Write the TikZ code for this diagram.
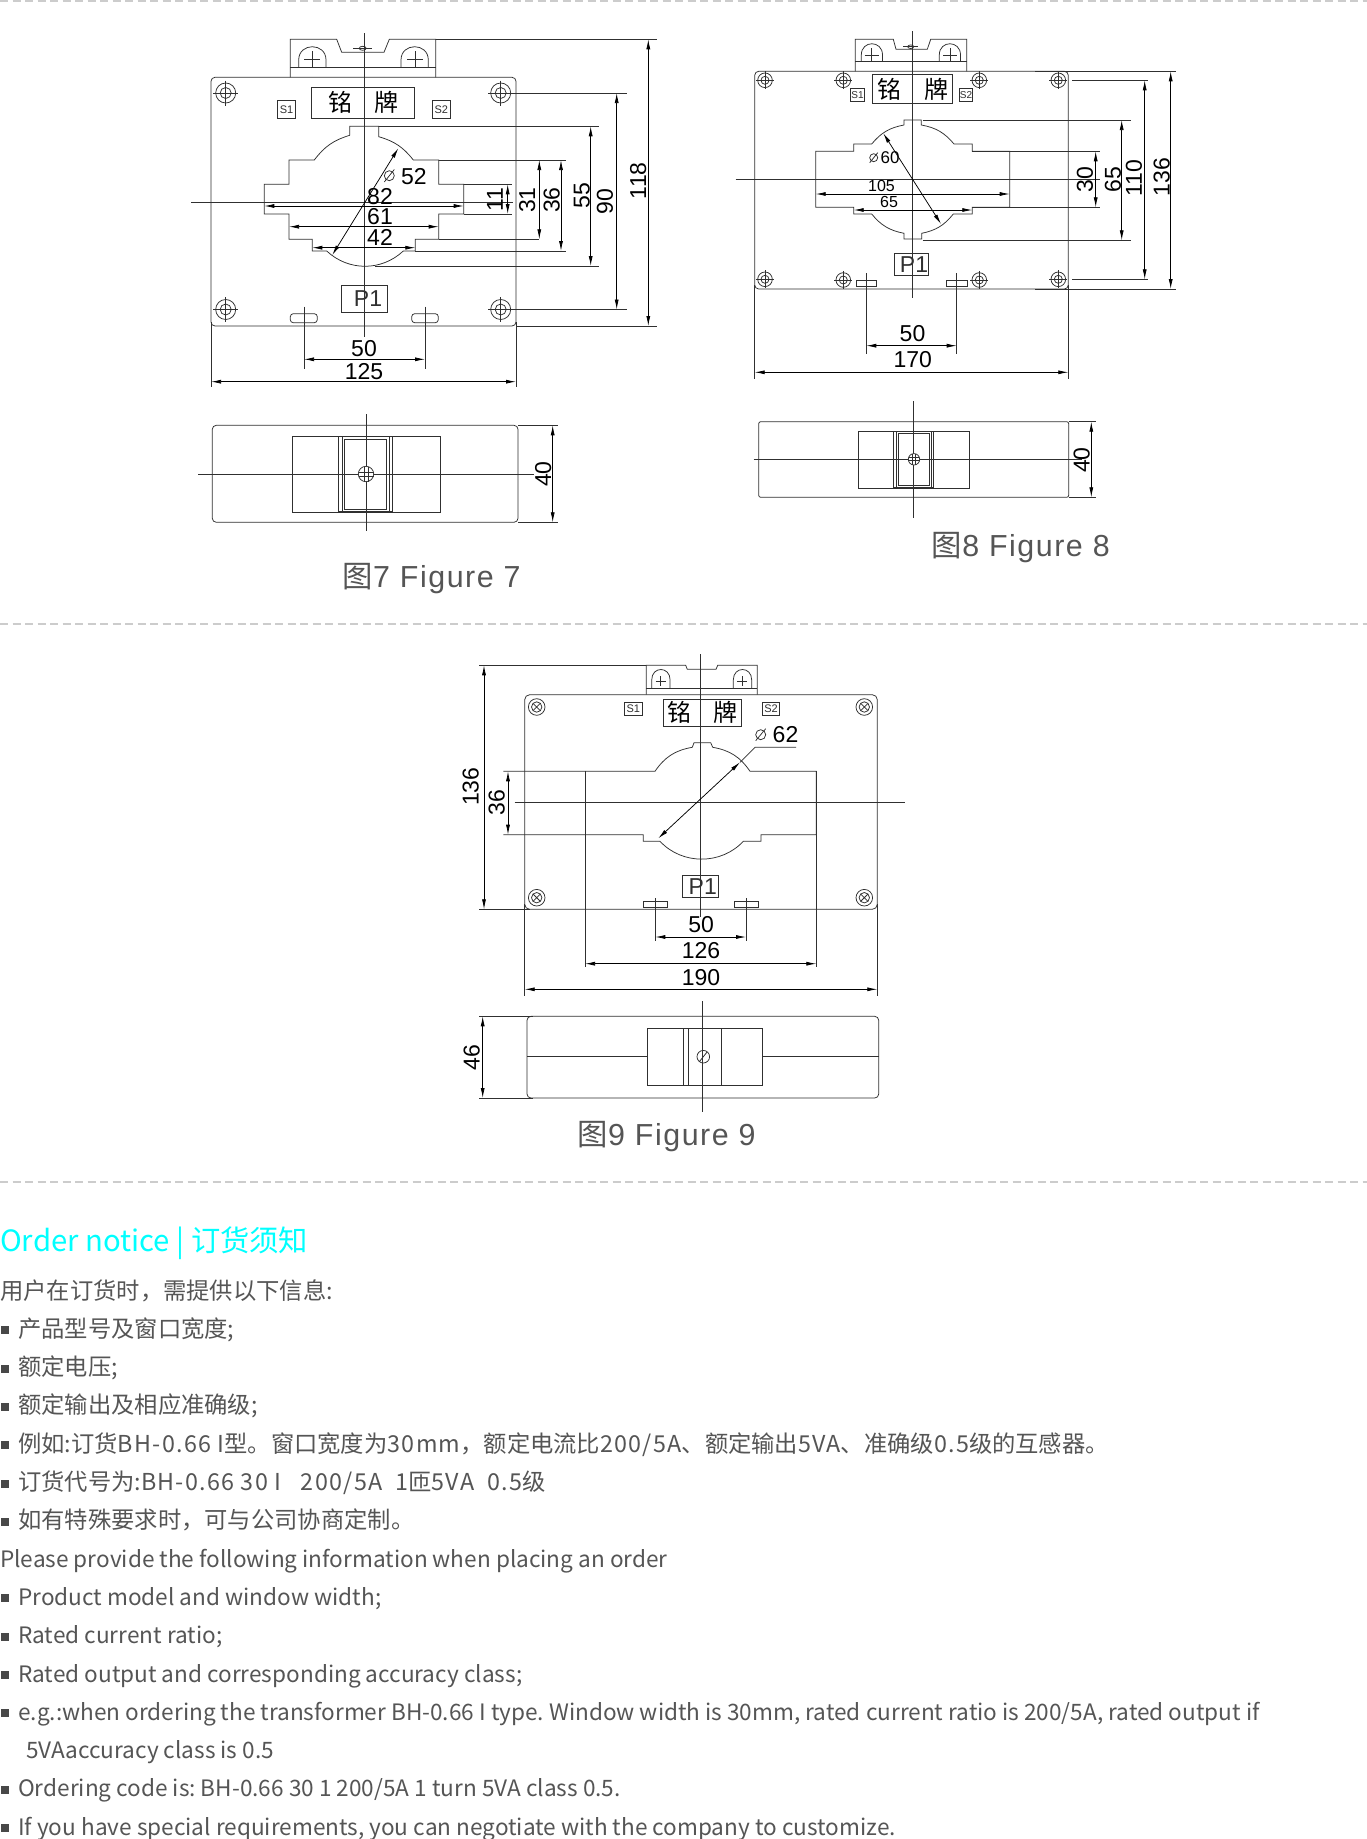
\documentclass[tikz,border=0pt]{standalone}
\usepackage{fontspec}
\setmainfont{Liberation Sans}
\newfontfamily\cjkfont{Noto Sans CJK SC}
\newfontfamily\widefont[LetterSpace=5.5]{Noto Sans CJK SC}
\newfontfamily\capfont[LetterSpace=5]{Liberation Sans}
\usetikzlibrary{arrows.meta,calc}
\definecolor{inkgrey}{HTML}{303030}
\definecolor{textgrey}{HTML}{555555}
\definecolor{headcyan}{HTML}{00FFFF}
\tikzset{>={Latex[length=10pt,width=4pt]},
  part/.style={draw=inkgrey,line width=.75pt},
  axis/.style={draw=inkgrey,line width=.75pt},
  ext/.style={draw=inkgrey,line width=.65pt},
  dim/.style={draw=black,line width=.75pt,<->},
  size/.style={inner sep=0pt,text=black,font=\fontsize{23}{23}\selectfont},
  smallsize/.style={size,font=\fontsize{16}{16}\selectfont},
  vsize/.style={size,rotate=90},
  tag/.style={draw=inkgrey,line width=.75pt,inner sep=0pt,text=inkgrey},
  plateword/.style={inner sep=0pt,text=black,font=\cjkfont\fontsize{24}{24}\selectfont},
  caption/.style={inner sep=0pt,text=textgrey,font=\capfont\fontsize{30.4}{30.4}\selectfont},
  separator/.style={draw=black!20,line width=1.5pt,dash pattern=on 8pt off 4.5pt},
  notice/.style={anchor=base west,inner sep=0pt,text=textgrey,font=\cjkfont\fontsize{22.6}{22.6}\selectfont},
  pics/mounthole/.style={code={
    \draw[part] (0,0) circle (#1) circle ({.55*#1});
    \draw[part] ({-1.25*#1},0) -- ({1.25*#1},0) (0,{-1.25*#1}) -- (0,{1.25*#1});}},
  pics/crosshole/.style={code={
    \draw[part] (0,0) circle (8.3) circle (5.2);
    \draw[part] (-3.5,-3.5) -- (3.5,3.5) (-3.5,3.5) -- (3.5,-3.5);}}
}
\newcommand{\noticemark}{\hspace{1pt}\textcolor{textgrey!85!black}{\rule[3pt]{8pt}{8pt}}\hspace{9pt}}
\newcommand{\cnsize}{\fontsize{23.3}{23.3}\selectfont}
\newcommand{\wide}[1]{{\widefont #1}}
\frenchspacing

\begin{document}
\begin{tikzpicture}[x=1pt,y=-1pt]
  \useasboundingbox (0,0) rectangle (1367,1839);
  \fill[white] (0,0) rectangle (1367,1839);

  % separators
  \draw[separator] (0,1) -- (1367,1);
  \draw[separator] (0,624) -- (1367,624);
  \draw[separator] (0,1182) -- (1367,1182);

  % figure 7, front
  \draw[part,rounded corners=4pt] (211,77.3) rectangle (516,326);
  \draw[part] (290.3,77.3) -- (290.3,39.3) -- (336.7,39.3) -- (341.7,52.3) -- (384,52.3) -- (389.3,39.3) -- (435.7,39.3) -- (435.7,77.3);
  \draw[part] (290.3,67.7) -- (435.7,67.7);
  \foreach \hx in {298.7,401}
    \draw[part] (\hx,67.7) -- (\hx,60) .. controls (\hx,42.3) and ({\hx+27.3},42.3) .. ({\hx+27.3},60) -- ({\hx+27.3},67.7);
  \foreach \hx in {312.3,415}
    \draw[part] ({\hx-8},59.3) -- ({\hx+8},59.3) (\hx,51.3) -- (\hx,67.3);
  \draw[part] (362.7,48.3) ellipse (3.5 and 2);
  \draw[part] (353.3,48.3) -- (371.7,48.3);
  \foreach \hx/\hy in {225.7/93,500.7/93,225.7/309.5,500.7/309.5}
    \pic at (\hx,\hy) {mounthole=10};
  \node[tag,minimum width=103.4pt,minimum height=30.7pt] (plateA) at (363,102.7) {};
  \node[plateword] (mingA) at (340,102.7) {铭};
  \node[plateword] (paiA) at (386.7,102.7) {牌};
  \node[tag,minimum width=17.6pt,minimum height=18pt,font=\fontsize{11}{11}\selectfont] (sA) at (286.5,109.7) {S1};
  \node[tag,minimum width=17.3pt,minimum height=18pt,font=\fontsize{11}{11}\selectfont] (sB) at (441.3,109.7) {S2};
  \node[tag,minimum width=45.6pt,minimum height=26.6pt,font=\fontsize{23}{23}\selectfont] (pA) at (364.5,299) {\hspace{7pt}P1};
  \draw[part] (349.7,135.3) -- (349.7,126.3) -- (378.7,126.3) -- (378.7,136.7) to[bend left=18] (413.3,160) -- (438.7,160) -- (438.7,184.3) -- (463.7,184.3) -- (463.7,214) -- (438.7,214) -- (438.7,239.3) -- (415.3,239.3) -- (415.3,251) -- (403.3,251) to[bend left=43] (326.7,251) -- (312.3,251) -- (312.3,239.3) -- (289,239.3) -- (289,214) -- (264.3,214) -- (264.3,184.3) -- (289,184.3) -- (289,160) -- (314.3,160) to[bend left=18] (349.7,135.3);
  \draw[part,rounded corners=3pt] (290.3,313.7) rectangle (317.3,322.7);
  \draw[part,rounded corners=3pt] (411.7,313.7) rectangle (438.3,322.7);
  \draw[axis] (364.7,33) -- (364.7,337);
  \draw[axis] (191,202) -- (513,202);
  % figure 7, extension lines
  \draw[ext] (378.7,126.3) -- (599.3,126.3) (375,266) -- (599.3,266);
  \draw[ext] (438.7,160) -- (565.7,160) (438.7,239.3) -- (539.3,239.3) (415.3,251) -- (565.7,251);
  \draw[ext] (463.7,184.3) -- (511.7,184.3) (463.7,214) -- (511.7,214);
  \draw[ext] (513,93) -- (627,93) (513,309.5) -- (627,309.5);
  \draw[ext] (435.7,39.3) -- (656.7,39.3) (516,326) -- (656.7,326);
  \draw[ext] (304,306.7) -- (304,369.3) (425,306.7) -- (425,369.3);
  \draw[ext] (211,322) -- (211,387.3) (516,322) -- (516,387.3);
  % figure 7, dimensions
  \draw[dim] (507.7,184.3) -- (507.7,214);
  \node[vsize] (d11) at (495,200) {11};
  \draw[dim] (539.3,160) -- (539.3,239.3);
  \node[vsize] (d31) at (527.3,200) {31};
  \draw[dim] (561,160) -- (561,251);
  \node[vsize] (d36) at (551.7,200) {36};
  \draw[dim] (590.7,126.3) -- (590.7,266);
  \node[vsize] (d55) at (581.7,195.7) {55};
  \draw[dim] (616.7,93) -- (616.7,309.5);
  \node[vsize] (d90) at (605,201.7) {90};
  \draw[dim] (648.3,39.3) -- (648.3,326);
  \node[vsize] (d118) at (638.3,180.7) {118};
  \draw[dim] (264.3,206) -- (463.7,206);
  \node[size] (d82) at (380,196.7) {82};
  \draw[dim] (289,226.7) -- (438.7,226.7);
  \node[size] (d61) at (380,216.7) {61};
  \draw[dim] (312.3,247.7) -- (415.3,247.7);
  \node[size] (d42) at (380,237.3) {42};
  \draw[dim] (398.3,148.3) -- (332.3,255);
  \node[size] (d52) at (413.8,176.8) {52};
  \draw[part] (389.3,175.7) circle (5) (384.3,182) -- (394.3,169.5);
  \draw[dim] (304,359.3) -- (425,359.3);
  \node[size] (d50) at (364,348.3) {50};
  \draw[dim] (211,381.7) -- (516,381.7);
  \node[size] (d125) at (364,371.7) {125};

  % figure 7, side
  \draw[part,rounded corners=4pt] (212.3,425.3) rectangle (518,522.3);
  \draw[part] (292,436.3) rectangle (440.3,512);
  \draw[part,line width=1.1pt] (338.7,436.3) rectangle (392.3,512);
  \draw[part] (342,436.3) -- (342,512) (389,436.3) -- (389,512);
  \draw[part] (344.7,439.3) rectangle (386,509);
  \draw[axis] (366,414) -- (366,531.3);
  \draw[axis] (198.3,474) -- (534.3,474);
  \draw[part,fill=white] (366,474) circle (7.7);
  \draw[part] (364,466.5) -- (364,481.5) (368,466.5) -- (368,481.5) (358.5,472) -- (373.5,472) (358.5,476) -- (373.5,476);
  \draw[ext] (518,425.3) -- (558.3,425.3) (518,522.3) -- (558.3,522.3);
  \draw[dim] (552.7,425.3) -- (552.7,522.3);
  \node[vsize] (d40a) at (543.3,474) {40};
  \node[caption] (capA) at (431.7,578.5) {{\cjkfont 图}7 Figure 7};

  % figure 8, front
  \draw[part,rounded corners=4pt] (754.7,71.3) rectangle (1068.3,289);
  \draw[part] (855.3,71.3) -- (855.3,39.3) -- (893.3,39.3) -- (896,49.3) -- (927.3,49.3) -- (930.7,39.3) -- (966.7,39.3) -- (966.7,71.3);
  \draw[part] (855.3,61.3) -- (966.7,61.3);
  \foreach \hx in {861.3,939.3}
    \draw[part] (\hx,61.3) -- (\hx,55) .. controls (\hx,40) and ({\hx+21.2},40) .. ({\hx+21.2},55) -- ({\hx+21.2},61.3);
  \foreach \hx in {871.7,950}
    \draw[part] ({\hx-7},55) -- ({\hx+7},55) (\hx,48) -- (\hx,62);
  \draw[part] (910.7,46.7) ellipse (3 and 1.8);
  \draw[part] (903,46.7) -- (918,46.7);
  \foreach \hx/\hy in {765/80.3,1058.3/80.3,765/279.3,1058.3/279.3,843.3/80.3,979.3/80.3,843.3/280,979.3/280}
    \pic at (\hx,\hy) {mounthole=7.3};
  \node[tag,minimum width=80pt,minimum height=28.7pt] (plateB) at (912.7,88.7) {};
  \node[plateword] (mingB) at (889.3,89) {铭};
  \node[plateword] (paiB) at (936,89) {牌};
  \node[tag,minimum width=13.6pt,minimum height=12.7pt,font=\fontsize{10}{10}\selectfont] (sC) at (857.5,94.7) {S1};
  \node[tag,minimum width=13.4pt,minimum height=12.7pt,font=\fontsize{10}{10}\selectfont] (sD) at (966,94.7) {S2};
  \node[tag,minimum width=34pt,minimum height=21.6pt,font=\fontsize{23}{23}\selectfont] (pB) at (911.7,264.5) {\hspace{4.6pt}P1};
  \draw[part] (904,125) -- (904,120) -- (921.3,120) -- (921.3,125) to[bend left=20] (954,144) -- (972.3,144) -- (972.3,151.3) -- (1009.7,151.3) -- (1009.7,207.3) -- (972.3,207.3) -- (972.3,214) -- (953.3,214) to[bend left=20] (921.7,233.3) -- (921.7,239) -- (904,239) -- (904,233.3) to[bend left=20] (871.7,214) -- (853.7,214) -- (853.7,207.3) -- (815.7,207.3) -- (815.7,151.3) -- (853.7,151.3) -- (853.7,144) -- (871.7,144) to[bend left=20] (904,125);
  \draw[part] (856,280.3) rectangle (876.7,286.7);
  \draw[part] (946.7,280.3) rectangle (967.7,286.7);
  \draw[axis] (912.3,31) -- (912.3,298.3);
  \draw[axis] (735.7,179.3) -- (1100,179.3);
  % figure 8, extension lines
  \draw[ext] (922.7,120) -- (1131,120) (922.7,240.3) -- (1131,240.3);
  \draw[ext] (972.3,151.3) -- (1100,151.3) (972.3,207.3) -- (1100,207.3);
  \draw[ext] (1072.3,80.3) -- (1147.7,80.3) (1072.3,279.3) -- (1147.7,279.3);
  \draw[ext] (1035,71.3) -- (1175.7,71.3) (1035,289) -- (1175.7,289);
  \draw[ext] (866.3,273.3) -- (866.3,354) (956.7,273.3) -- (956.7,354);
  \draw[ext] (754.7,285) -- (754.7,379.3) (1068.3,285) -- (1068.3,379.3);
  % figure 8, dimensions
  \draw[dim] (1095.7,151.3) -- (1095.7,207.3);
  \node[vsize] (d30) at (1085,179.3) {30};
  \draw[dim] (1121.7,120) -- (1121.7,240.3);
  \node[vsize] (d65) at (1113,179.3) {65};
  \draw[dim] (1144.7,80.3) -- (1144.7,279.3);
  \node[vsize] (d110) at (1134,178.3) {110};
  \draw[dim] (1170.7,71.3) -- (1170.7,289);
  \node[vsize] (d136) at (1161.7,177.3) {136};
  \draw[dim] (815.7,194) -- (1009.7,194);
  \node[smallsize] (d105) at (881.5,186) {105};
  \draw[dim] (853.7,210) -- (972.3,210);
  \node[smallsize] (d65b) at (889,202) {65};
  \draw[dim] (883.3,133.3) -- (941,224);
  \node[smallsize,font=\fontsize{17}{17}\selectfont] (d60) at (890,157.7) {60};
  \draw[part] (873.7,157.7) circle (4) (869.7,162.7) -- (877.7,152.7);
  \draw[dim] (866.3,345.7) -- (956.7,345.7);
  \node[size] (d50b) at (912.5,334) {50};
  \draw[dim] (754.7,372.3) -- (1068.3,372.3);
  \node[size] (d170) at (912.7,359.3) {170};

  % figure 8, side
  \draw[part,rounded corners=2pt] (758.7,421.7) rectangle (1068.7,497.3);
  \draw[part] (858.7,431.3) rectangle (969.7,488);
  \draw[part,line width=1.1pt] (893.7,431.3) rectangle (933.3,488);
  \draw[part] (896,431.3) -- (896,488) (931,431.3) -- (931,488);
  \draw[part] (898.3,433.3) rectangle (929.3,485.7);
  \draw[axis] (913.3,401) -- (913.3,518.3);
  \draw[axis] (753.7,459.3) -- (1081.7,459.3);
  \draw[part,fill=white] (914,459.3) circle (5.7);
  \draw[part] (912.5,454) -- (912.5,464.6) (915.5,454) -- (915.5,464.6) (908.7,457.8) -- (919.3,457.8) (908.7,460.8) -- (919.3,460.8);
  \draw[ext] (1068.7,421.7) -- (1095.7,421.7) (1068.7,497.3) -- (1095.7,497.3);
  \draw[dim] (1091.3,421.7) -- (1091.3,497.3);
  \node[vsize] (d40b) at (1081.7,460) {40};
  \node[caption] (capB) at (1020.8,548) {{\cjkfont 图}8 Figure 8};

  % figure 9, front
  \draw[part,rounded corners=5pt] (524.7,694.7) rectangle (877.3,909.3);
  \draw[part] (646.3,694.7) -- (646.3,665.3) -- (685.7,665.3) -- (687.3,669.3) -- (716,669.3) -- (717.7,665.3) -- (757.3,665.3) -- (757.3,694.7);
  \draw[part] (646.3,688.7) -- (757.3,688.7);
  \foreach \hx in {651.7,733.3}
    \draw[part] (\hx,688.7) -- (\hx,680) .. controls (\hx,666) and ({\hx+18.4},666) .. ({\hx+18.4},680) -- ({\hx+18.4},688.7);
  \foreach \hx in {660.7,742.3}
    \draw[part] ({\hx-5},681.3) -- ({\hx+5},681.3) (\hx,676.3) -- (\hx,686.3);
  \foreach \hx/\hy in {536.7/707,864.3/707,536.7/897.7,864.3/897.7}
    \pic at (\hx,\hy) {crosshole};
  \node[tag,minimum width=78.3pt,minimum height=27pt] (plateC) at (702.2,712.8) {};
  \node[plateword] (mingC) at (679,712.7) {铭};
  \node[plateword] (paiC) at (725.7,712.7) {牌};
  \node[tag,minimum width=18pt,minimum height=13.4pt,font=\fontsize{11}{11}\selectfont] (sE) at (633.3,709) {S1};
  \node[tag,minimum width=17.4pt,minimum height=13.4pt,font=\fontsize{11}{11}\selectfont] (sF) at (771,709) {S2};
  \node[tag,minimum width=35.6pt,minimum height=21.7pt,font=\fontsize{23}{23}\selectfont] (pC) at (700.5,886.2) {\hspace{4.6pt}P1};
  \draw[part] (692.3,747.3) -- (694,742.7) -- (710.7,742.7) -- (712.7,747.3) to[bend left=23] (750,771.3) -- (816.3,771.3) -- (816.3,834.7) -- (761,834.7) -- (761,841.3) -- (743.3,841.3) to[bend left=47] (660,841.3) -- (643.3,841.3) -- (643.3,834.7) -- (503.3,834.7);
  \draw[part] (503.3,771.3) -- (655,771.3) to[bend left=23] (692.3,747.3);
  \draw[part] (643.7,901.7) rectangle (667,907.3);
  \draw[part] (734.3,901.7) rectangle (758,907.3);
  \draw[axis] (700.7,654.3) -- (700.7,916.7);
  \draw[axis] (514.7,802) -- (905,802);
  % figure 9, extension lines
  \draw[ext] (479.3,665.3) -- (646.3,665.3) (479.3,909.3) -- (530,909.3);
  \draw[ext] (585,771.3) -- (585,966.7) (816.3,771.3) -- (816.3,966.7);
  \draw[ext] (655.3,898.3) -- (655.3,941) (746,898.3) -- (746,941);
  \draw[ext] (524.7,904) -- (524.7,995.7) (877.3,904) -- (877.3,995.7);
  % figure 9, dimensions
  \draw[dim] (508,771.3) -- (508,834.7);
  \node[vsize] (d36c) at (496.7,802.3) {36};
  \draw[dim] (484,665.3) -- (484,909.3);
  \node[vsize] (d136c) at (470.7,786.7) {136};
  \draw[dim] (740,762.3) -- (658.3,838.3);
  \draw[ext] (740,762.3) -- (755,747.3) -- (796,747.3);
  \node[size] (d62) at (785.5,734.7) {62};
  \draw[part] (760.7,734.7) circle (5) (755.7,740.7) -- (765.7,728.7);
  \draw[dim] (655.3,937) -- (746,937);
  \node[size] (d50c) at (701.2,925) {50};
  \draw[dim] (585,963.7) -- (816.3,963.7);
  \node[size] (d126) at (701,951) {126};
  \draw[dim] (524.7,989.3) -- (877.3,989.3);
  \node[size] (d190) at (701,977.3) {190};

  % figure 9, side
  \draw[part,rounded corners=4pt] (527,1016.3) rectangle (878.7,1098);
  \draw[part] (647.7,1028.3) rectangle (762.3,1085.3);
  \draw[part] (683.3,1028.3) rectangle (721.7,1085.3);
  \draw[part] (688.7,1028.3) -- (688.7,1085.3);
  \draw[part] (527,1056.7) -- (647.7,1056.7) (762.3,1056.7) -- (878.7,1056.7);
  \draw[axis] (702.3,1001.3) -- (702.3,1112.3);
  \draw[part] (703.3,1056.7) circle (6.3) (699.3,1061.7) -- (707.3,1051.7);
  \draw[ext] (479.3,1016.3) -- (533,1016.3) (479.3,1098) -- (533,1098);
  \draw[dim] (482.7,1016.3) -- (482.7,1098);
  \node[vsize] (d46) at (471.7,1057.3) {46};
  \node[caption] (capC) at (666.7,1137) {{\cjkfont 图}9 Figure 9};

  % order notice
  \node[notice,text=headcyan,font=\cjkfont\fontsize{29.3}{29.3}\selectfont] (heading) at (0,1251.5) {Order notice | 订货须知};
  \foreach \tx [count=\i from 0] in {
    {\cnsize 用户在订货时，需提供以下信息:},
    {\noticemark\cnsize 产品型号及窗口宽度;},
    {\noticemark\cnsize 额定电压;},
    {\noticemark\cnsize 额定输出及相应准确级;},
    {\noticemark\cnsize 例如:订货\wide{BH-0.66 I}型。窗口宽度为\wide{30mm}，额定电流比\wide{200/5A}、额定输出\wide{5VA}、准确级\wide{0.5}级的互感器。},
    {\noticemark\cnsize 订货代号为:\wide{BH-0.66 30 I \ \ 200/5A \ 1}匝\wide{5VA \ 0.5}级},
    {\noticemark\cnsize 如有特殊要求时，可与公司协商定制。},
    {Please provide the following information when placing an order},
    {\noticemark Product model and window width;},
    {\noticemark Rated current ratio;},
    {\noticemark Rated output and corresponding accuracy class;},
    {\noticemark e.g.:when ordering the transformer BH-0.66 I type. Window width is 30mm, rated current ratio is 200/5A, rated output if},
    {\hspace{25.8pt}5VAaccuracy class is 0.5},
    {\noticemark Ordering code is: BH-0.66 30 1 200/5A 1 turn 5VA class 0.5.},
    {\noticemark If you have special requirements, you can negotiate with the company to customize.}}
    \node[notice] (line\i) at (0,{1299+38.3*\i}) {\tx};
\end{tikzpicture}
\end{document}
